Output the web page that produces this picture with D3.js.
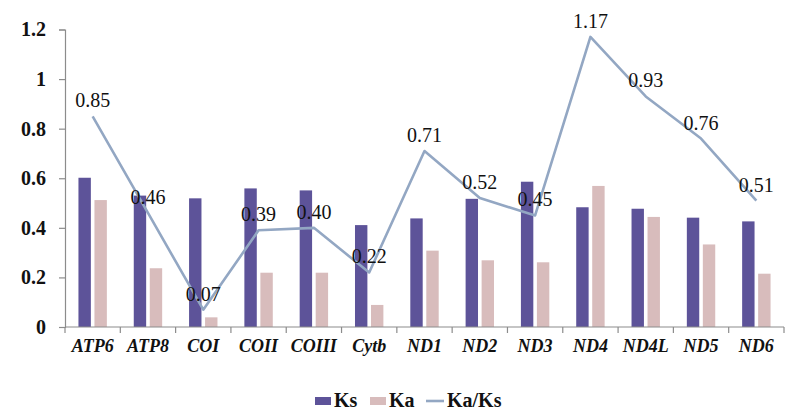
<!DOCTYPE html>
<html>
<head>
<meta charset="utf-8">
<script src="https://cdn.jsdelivr.net/npm/d3@7"></script>
<style>
  html, body { margin: 0; padding: 0; background: #fff; }
  svg { display: block; }
  svg text { font-family: "Liberation Serif", serif; }
</style>
</head>
<body>
<svg id="chart" width="788" height="413"></svg>
<script>
const categories = ["ATP6","ATP8","COI","COII","COIII","Cytb","ND1","ND2","ND3","ND4","ND4L","ND5","ND6"];
const ksValues = [0.602,0.53,0.519,0.559,0.551,0.411,0.438,0.517,0.586,0.483,0.477,0.441,0.426];
const kaValues = [0.512,0.237,0.039,0.219,0.219,0.089,0.308,0.269,0.261,0.569,0.444,0.333,0.215];
const ratioValues = [0.85,0.46,0.07,0.39,0.40,0.22,0.71,0.52,0.45,1.17,0.93,0.76,0.51];
const ratioLabels = ["0.85","0.46","0.07","0.39","0.40","0.22","0.71","0.52","0.45","1.17","0.93","0.76","0.51"];
const yTicks = [0,0.2,0.4,0.6,0.8,1,1.2];
const yTickLabels = ["0","0.2","0.4","0.6","0.8","1","1.2"];
const seriesNames = ["Ks","Ka","Ka/Ks"];

const colKs = "#5d5399", colKa = "#d8bcbc", colLine = "#93a7c3", axisCol = "#8c8c8c";
const serif = "Liberation Serif";

const svg = d3.select("#chart");
const mLeft = 65, mRight = 784, mTop = 29.5, mBottom = 327;

const x = d3.scaleBand().domain(categories).range([mLeft, mRight]).paddingInner(0).paddingOuter(0);
const y = d3.scaleLinear().domain([0, 1.2]).range([mBottom, mTop]);
const bw = 12.4, gap = 3.6;
const cw = x.bandwidth();

// bars
const g = svg.append("g");
g.selectAll("rect.ks").data(categories).join("rect")
  .attr("class","ks")
  .attr("x", (d) => x(d) + cw/2 - gap/2 - bw)
  .attr("width", bw)
  .attr("y", (d,i) => y(ksValues[i]))
  .attr("height", (d,i) => y(0) - y(ksValues[i]))
  .attr("fill", colKs);
g.selectAll("rect.ka").data(categories).join("rect")
  .attr("class","ka")
  .attr("x", (d) => x(d) + cw/2 + gap/2)
  .attr("width", bw)
  .attr("y", (d,i) => y(kaValues[i]))
  .attr("height", (d,i) => y(0) - y(kaValues[i]))
  .attr("fill", colKa);

// y axis
const yAxis = d3.axisLeft(y).tickValues(yTicks).tickFormat((d,i) => yTickLabels[i]).tickSize(6).tickPadding(13);
const ya = svg.append("g").attr("transform", `translate(${mLeft},0)`).call(yAxis);
ya.attr("font-family", serif);
ya.select(".domain").attr("stroke", axisCol).attr("stroke-width", 1.2);
ya.selectAll(".tick line").attr("stroke", axisCol).attr("stroke-width", 1.2);
ya.selectAll(".tick text").attr("font-family", serif).attr("font-weight", "bold")
  .attr("font-size", 20).attr("fill", "#111");

// x axis
const xa = svg.append("g").attr("transform", `translate(0,${mBottom})`);
xa.append("line").attr("x1", mLeft).attr("x2", mRight).attr("stroke", axisCol).attr("stroke-width", 1.2);
xa.selectAll("line.t").data(categories.concat(["_end"])).join("line")
  .attr("class","t")
  .attr("x1", (d,i) => mLeft + i*cw).attr("x2", (d,i) => mLeft + i*cw)
  .attr("y1", 0).attr("y2", 6)
  .attr("stroke", axisCol).attr("stroke-width", 1.2);
xa.selectAll("text").data(categories).join("text")
  .attr("x", (d) => x(d) + cw/2)
  .attr("y", 25)
  .attr("text-anchor", "middle")
  .attr("font-family", serif).attr("font-weight", "bold").attr("font-style", "italic")
  .attr("font-size", 18).attr("fill", "#111")
  .text(d => d);

// line
const line = d3.line().x((d,i) => x(categories[i]) + cw/2).y(d => y(d));
svg.append("path").datum(ratioValues)
  .attr("d", line).attr("fill", "none").attr("stroke", colLine).attr("stroke-width", 2.6)
  .attr("stroke-linejoin", "round");

svg.selectAll("text.lbl").data(ratioValues).join("text")
  .attr("class","lbl")
  .attr("x", (d,i) => x(categories[i]) + cw/2)
  .attr("y", d => y(d) - 9)
  .attr("text-anchor", "middle")
  .attr("font-family", serif).attr("font-size", 20).attr("fill", "#111")
  .text((d,i) => ratioLabels[i]);

// legend
const lg = svg.append("g");
lg.append("rect").attr("x", 315).attr("y", 397).attr("width", 16).attr("height", 8).attr("fill", colKs);
lg.append("text").attr("x", 334).attr("y", 407).text(seriesNames[0]);
lg.append("rect").attr("x", 370).attr("y", 397).attr("width", 16).attr("height", 8).attr("fill", colKa);
lg.append("text").attr("x", 389).attr("y", 407).text(seriesNames[1]);
lg.append("line").attr("x1", 426).attr("x2", 444).attr("y1", 401).attr("y2", 401).attr("stroke", colLine).attr("stroke-width", 2.6);
lg.append("text").attr("x", 447).attr("y", 407).text(seriesNames[2]);
lg.selectAll("text").attr("font-family", serif).attr("font-weight", "bold").attr("font-size", 20).attr("fill", "#111");
</script>
</body>
</html>
